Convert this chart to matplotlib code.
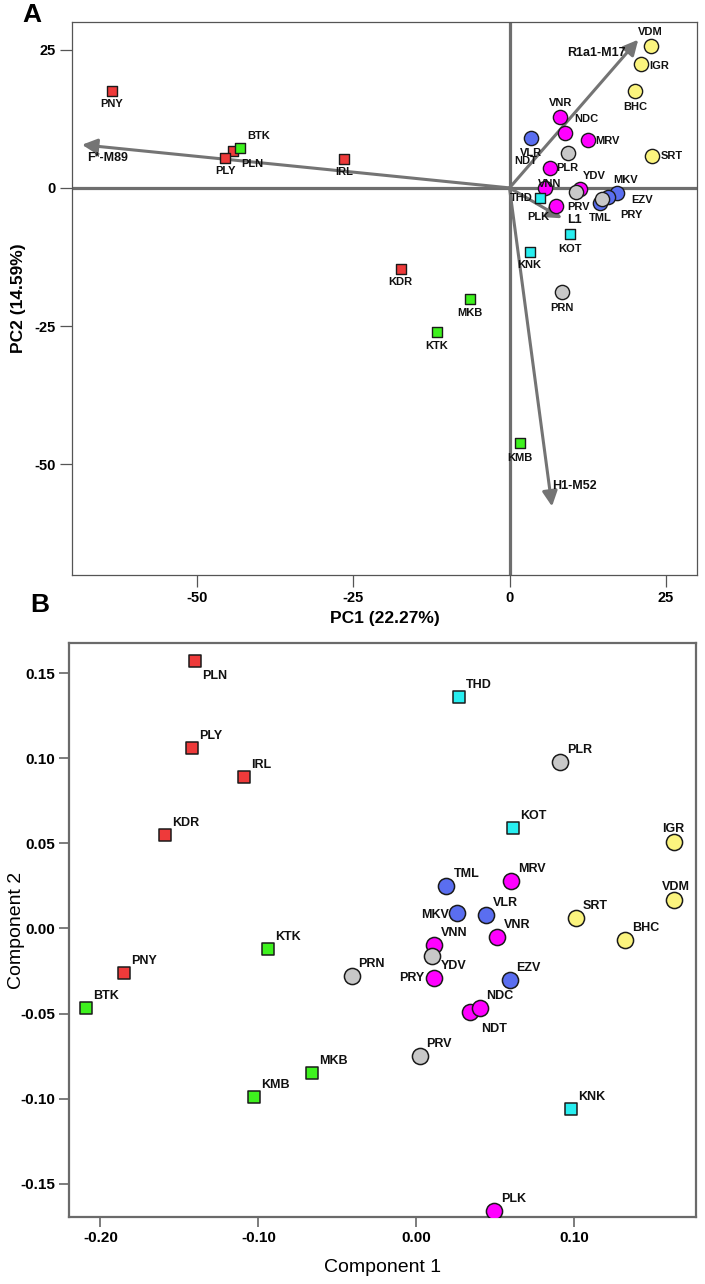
import matplotlib
matplotlib.use("Agg")
import matplotlib.pyplot as plt
from matplotlib.patches import FancyArrowPatch

plt.rcParams['font.family'] = ['Liberation Sans', 'DejaVu Sans']
plt.rcParams['axes.unicode_minus'] = False

# ---------------- data ----------------
# group membership (colour / marker) of each population
groups = {
    'red': ['PNY', 'PLY', 'PLN', 'IRL', 'KDR'],
    'green': ['BTK', 'MKB', 'KTK', 'KMB'],
    'cyan': ['THD', 'KOT', 'KNK'],
    'magenta': ['VNR', 'NDC', 'MRV', 'NDT', 'VNN', 'PLK', 'PRY'],
    'blue': ['VLR', 'TML', 'EZV', 'MKV'],
    'grey': ['PLR', 'YDV', 'PRV', 'PRN'],
    'yellow': ['SRT', 'VDM', 'IGR', 'BHC'],
}

# Panel A: PCA scores (drawing order)
pca_pops = ['PNY', 'PLN', 'PLY', 'BTK', 'IRL', 'KDR', 'MKB', 'KTK', 'KMB',
            'VNR', 'NDC', 'MRV', 'VLR', 'PLR', 'NDT', 'VNN', 'THD', 'PLK',
            'PRY', 'YDV', 'TML', 'MKV', 'EZV', 'PRV', 'KOT', 'KNK', 'PRN',
            'SRT', 'VDM', 'IGR', 'BHC']
pca_pc1 = [-63.6, -44.2, -45.5, -43.1, -26.5, -17.4, -6.4, -11.6, 1.6,
           8.1, 8.9, 12.5, 3.4, 9.3, 6.4, 5.7, 4.9, 7.4,
           11.3, 10.6, 14.5, 17.2, 15.8, 14.8, 9.7, 3.2, 8.4,
           22.8, 22.6, 21.0, 20.1]
pca_pc2 = [17.5, 6.6, 5.4, 7.3, 5.2, -14.7, -20.1, -26.0, -46.2,
           12.8, 10.0, 8.6, 9.1, 6.4, 3.6, 0.0, -1.9, -3.3,
           -0.2, -0.7, -2.7, -0.9, -1.6, -2.0, -8.4, -11.6, -18.9,
           5.8, 25.6, 22.4, 17.6]

# Panel A: loading vectors
vec_names = ['F*-M89', 'R1a1-M17', 'H1-M52', 'L1']
vec_pc1 = [-68.4, 20.6, 6.8, 8.4]
vec_pc2 = [7.8, 26.8, -57.6, -5.5]

# Panel B: MDS components (drawing order)
mds_pops = ['PLN', 'PLY', 'IRL', 'KDR', 'PNY', 'BTK', 'KTK', 'MKB', 'KMB',
            'THD', 'KOT', 'KNK', 'PLR', 'PRN', 'VNN', 'YDV', 'PRV', 'TML',
            'MKV', 'VLR', 'EZV', 'MRV', 'VNR', 'PRY', 'NDT', 'NDC', 'PLK',
            'IGR', 'VDM', 'SRT', 'BHC']
mds_c1 = [-0.140, -0.142, -0.109, -0.159, -0.185, -0.209, -0.094, -0.066, -0.103,
          0.027, 0.061, 0.098, 0.091, -0.041, 0.011, 0.010, 0.002, 0.019,
          0.026, 0.044, 0.059, 0.060, 0.051, 0.011, 0.034, 0.040, 0.049,
          0.163, 0.163, 0.101, 0.132]
mds_c2 = [0.157, 0.106, 0.089, 0.055, -0.026, -0.047, -0.012, -0.085, -0.099,
          0.136, 0.059, -0.106, 0.098, -0.028, -0.010, -0.016, -0.075, 0.025,
          0.009, 0.008, -0.030, 0.028, -0.005, -0.029, -0.049, -0.047, -0.166,
          0.051, 0.017, 0.006, -0.007]

# ---------------- styles ----------------
colors = {'red': '#ee3a3a', 'green': '#3ef21e', 'cyan': '#28eef0',
          'magenta': '#ff00ff', 'blue': '#5a6ef0', 'grey': '#c8c8c8',
          'yellow': '#fbf47e'}
square_groups = {'red', 'green', 'cyan'}
group_of = {p: g for g, ps in groups.items() for p in ps}

PX = 0.72  # points per pixel at dpi 100

# label placement for panel A: (dx px, dy px, ha, va)
labA = {
    'PNY': (0, -13, 'center', 'center'), 'PLY': (0, -13, 'center', 'center'),
    'PLN': (8, -13, 'left', 'center'), 'BTK': (7, 12, 'left', 'center'),
    'IRL': (0, -13, 'center', 'center'), 'KDR': (0, -13, 'center', 'center'),
    'MKB': (0, -14, 'center', 'center'), 'KTK': (0, -14, 'center', 'center'),
    'KMB': (0, -15, 'center', 'center'), 'VNR': (0, 14, 'center', 'center'),
    'NDC': (9, 14, 'left', 'center'), 'MRV': (8, -1, 'left', 'center'),
    'VLR': (0, -15, 'center', 'center'), 'PLR': (0, -15, 'center', 'center'),
    'NDT': (-12, 7, 'right', 'center'), 'VNN': (4, 4, 'center', 'center'),
    'THD': (-7, 0, 'right', 'center'), 'PLK': (-17, -11, 'center', 'center'),
    'YDV': (19, 16, 'center', 'center'), 'PRY': (51, -26, 'center', 'center'),
    'PRV': (-24, -8, 'center', 'center'), 'TML': (0, -15, 'center', 'center'),
    'EZV': (34, -3, 'center', 'center'), 'MKV': (9, 13, 'center', 'center'),
    'KOT': (0, -15, 'center', 'center'), 'KNK': (0, -13, 'center', 'center'),
    'PRN': (0, -16, 'center', 'center'), 'SRT': (9, 0, 'left', 'center'),
    'VDM': (0, 14, 'center', 'center'), 'IGR': (8, -2, 'left', 'center'),
    'BHC': (0, -16, 'center', 'center'),
}
vec_lab = {
    'F*-M89': (5, -13, 'left', 'center'),
    'R1a1-M17': (-13, -13, 'right', 'center'),
    'H1-M52': (0, 20, 'left', 'center'),
    'L1': (12, -2, 'center', 'center'),
}
# label placement for panel B
labB_default = (7, 9, 'left', 'baseline')
labB = {
    'PLN': (7, -9, 'left', 'top'),
    'NDT': (11, -11, 'left', 'top'),
    'YDV': (9, -13, 'left', 'baseline'),
    'PRY': (-10, -3, 'right', 'baseline'),
    'MKV': (-8, -5, 'right', 'baseline'),
    'VDM': (-12, 10, 'left', 'baseline'),
    'IGR': (-12, 10, 'left', 'baseline'),
}

fig = plt.figure(figsize=(7.05, 12.84), dpi=100)

# ================= Panel A =================
axA = fig.add_axes([72 / 705, 1 - 575 / 1284, 625 / 705, 553 / 1284])
axA.set_xlim(-70, 30)
axA.set_ylim(-70, 30)
axA.axhline(0, color='#6e6e6e', lw=2.3, zorder=1)
axA.axvline(0, color='#6e6e6e', lw=2.3, zorder=1)

for name, vx, vy in zip(vec_names, vec_pc1, vec_pc2):
    arr = FancyArrowPatch((0, 0), (vx, vy),
                          arrowstyle='-|>,head_length=0.9,head_width=0.45',
                          mutation_scale=10, lw=2.2, color='#747474',
                          shrinkA=0, shrinkB=0, zorder=2)
    axA.add_patch(arr)
    dx, dy, ha, va = vec_lab[name]
    axA.annotate(name, (vx, vy), xytext=(dx * PX, dy * PX),
                 textcoords='offset points', ha=ha, va=va,
                 fontsize=9, fontweight='bold', color='#111111', zorder=6)

for i, (p, x, y) in enumerate(zip(pca_pops, pca_pc1, pca_pc2)):
    g = group_of[p]
    sq = g in square_groups
    axA.scatter([x], [y], s=52 if sq else 105, marker='s' if sq else 'o',
                facecolor=colors[g], edgecolor='#1a1a1a', linewidth=1.0,
                zorder=3 + i * 0.01)
    dx, dy, ha, va = labA[p]
    axA.annotate(p, (x, y), xytext=(dx * PX, dy * PX),
                 textcoords='offset points', ha=ha, va=va,
                 fontsize=8, fontweight='bold', color='#111111', zorder=6)

axA.set_xticks([-50, -25, 0, 25])
axA.set_yticks([25, 0, -25, -50])
axA.tick_params(direction='out', length=8.5, width=0.9, color='#555555',
                labelsize=10.5, pad=3)
for t in axA.get_xticklabels() + axA.get_yticklabels():
    t.set_fontweight('bold')
for s in axA.spines.values():
    s.set_color('#555555')
    s.set_linewidth(0.9)
axA.set_xlabel('PC1 (22.27%)', fontsize=12.5, fontweight='bold', labelpad=4)
axA.set_ylabel('PC2 (14.59%)', fontsize=12.5, fontweight='bold', labelpad=6)
fig.text(32 / 705, 1 - 15 / 1284, 'A', fontsize=19, fontweight='bold',
         ha='center', va='center')

# ================= Panel B =================
axB = fig.add_axes([69 / 705, 1 - 1217 / 1284, 627 / 705, 574 / 1284])
axB.set_xlim(-0.2199, 0.177)
axB.set_ylim(-0.1696, 0.1678)

for i, (p, x, y) in enumerate(zip(mds_pops, mds_c1, mds_c2)):
    g = group_of[p]
    sq = g in square_groups
    axB.scatter([x], [y], s=75 if sq else 135, marker='s' if sq else 'o',
                facecolor=colors[g], edgecolor='#1a1a1a', linewidth=1.1,
                zorder=3 + i * 0.01)
    dx, dy, ha, va = labB.get(p, labB_default)
    axB.annotate(p, (x, y), xytext=(dx * PX, dy * PX),
                 textcoords='offset points', ha=ha, va=va,
                 fontsize=9, fontweight='bold', color='#111111', zorder=6)

xt = [-0.20, -0.10, 0.00, 0.10]
yt = [0.15, 0.10, 0.05, 0.00, -0.05, -0.10, -0.15]
axB.set_xticks(xt)
axB.set_xticklabels([f'{v:.2f}' for v in xt])
axB.set_yticks(yt)
axB.set_yticklabels([f'{v:.2f}' for v in yt])
axB.tick_params(direction='out', length=7, width=1.2, color='#666666',
                labelsize=11, pad=3)
for t in axB.get_xticklabels() + axB.get_yticklabels():
    t.set_fontweight('bold')
for s in axB.spines.values():
    s.set_color('#6a6a6a')
    s.set_linewidth(1.6)
axB.set_xlabel('Component 1', fontsize=14, va='center')
axB.xaxis.set_label_coords(0.5, -50 / 574)
axB.set_ylabel('Component 2', fontsize=14, va='center')
axB.yaxis.set_label_coords(-52 / 627, 0.5)
fig.text(40 / 705, 1 - 605 / 1284, 'B', fontsize=19, fontweight='bold',
         ha='center', va='center')

fig.savefig('out.png', dpi=100)
